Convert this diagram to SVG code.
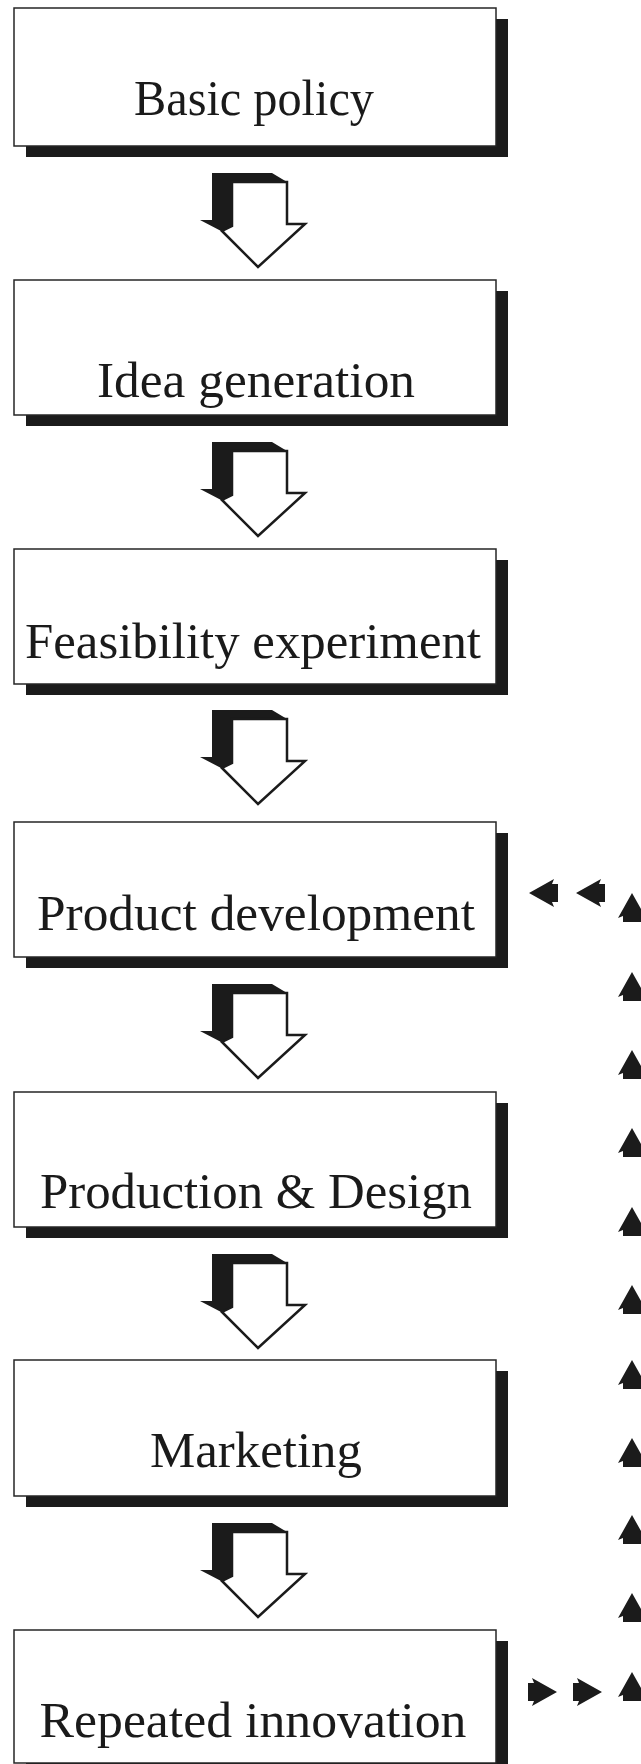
<svg xmlns="http://www.w3.org/2000/svg" xmlns:xlink="http://www.w3.org/1999/xlink" width="641" height="1764" viewBox="0 0 641 1764">
  <style>
    .shadow { fill: #1b1b1b; }
    .box { fill: #ffffff; stroke: #262626; stroke-width: 1.5; }
    .label { font-family: "Liberation Serif", "Times New Roman", serif; font-size: 50px; fill: #1a1a1a; text-anchor: middle; }
    .extrude { fill: #1b1b1b; }
    .face { fill: #ffffff; stroke: #1b1b1b; stroke-width: 2.5; stroke-linejoin: miter; }
    .tick { fill: #1b1b1b; }
  </style>
  <defs>
    <!-- hollow 3D block arrow, drawn for the first gap (top at y=173) -->
    <g id="blockArrow">
      <polygon class="extrude" points="212,173 272,173 287,182 232,182 232,226 223,232 200,220 212,220"/>
      <polygon class="face" points="232,182 287,182 287,224 305,224 258,267 222,231 232,226"/>
    </g>
    <!-- small solid arrowhead, tip at origin, pointing up -->
    <path id="ah" class="tick" d="M0,0 L14,25 L9,23 L9,29 L-9,29 L-9,23 L-14,25 Z"/>
  </defs>

  <rect width="641" height="1764" fill="#ffffff"/>

  <g id="node-basic-policy">
    <rect class="shadow" x="26" y="19" width="482" height="138"/>
    <rect class="box" x="14" y="8" width="482" height="138"/>
    <text class="label" x="254" y="115" textLength="240" lengthAdjust="spacingAndGlyphs">Basic policy</text>
  </g>

  <g id="node-idea-generation">
    <rect class="shadow" x="26" y="291" width="482" height="135"/>
    <rect class="box" x="14" y="280" width="482" height="135"/>
    <text class="label" x="256" y="397" textLength="318" lengthAdjust="spacingAndGlyphs">Idea generation</text>
  </g>

  <g id="node-feasibility">
    <rect class="shadow" x="26" y="560" width="482" height="135"/>
    <rect class="box" x="14" y="549" width="482" height="135"/>
    <text class="label" x="253" y="658" textLength="456" lengthAdjust="spacingAndGlyphs">Feasibility experiment</text>
  </g>

  <g id="node-product-development">
    <rect class="shadow" x="26" y="833" width="482" height="135"/>
    <rect class="box" x="14" y="822" width="482" height="135"/>
    <text class="label" x="256" y="930" textLength="438" lengthAdjust="spacingAndGlyphs">Product development</text>
  </g>

  <g id="node-production-design">
    <rect class="shadow" x="26" y="1103" width="482" height="135"/>
    <rect class="box" x="14" y="1092" width="482" height="135"/>
    <text class="label" x="256" y="1208" textLength="432" lengthAdjust="spacingAndGlyphs">Production &amp; Design</text>
  </g>

  <g id="node-marketing">
    <rect class="shadow" x="26" y="1371" width="482" height="136"/>
    <rect class="box" x="14" y="1360" width="482" height="136"/>
    <text class="label" x="256" y="1467" textLength="212" lengthAdjust="spacingAndGlyphs">Marketing</text>
  </g>

  <g id="node-repeated-innovation">
    <rect class="shadow" x="26" y="1641" width="482" height="134"/>
    <rect class="box" x="14" y="1630" width="482" height="133"/>
    <text class="label" x="253" y="1737" textLength="427" lengthAdjust="spacingAndGlyphs">Repeated innovation</text>
  </g>

  <g id="connectors">
    <!-- downward flow between stages -->
    <use xlink:href="#blockArrow"/>
    <use xlink:href="#blockArrow" transform="translate(0,269)"/>
    <use xlink:href="#blockArrow" transform="translate(0,537)"/>
    <use xlink:href="#blockArrow" transform="translate(0,811)"/>
    <use xlink:href="#blockArrow" transform="translate(0,1081)"/>
    <use xlink:href="#blockArrow" transform="translate(0,1350)"/>

    <!-- feedback loop: repeated innovation back to product development -->
    <use xlink:href="#ah" transform="translate(557,1692) rotate(90)"/>
    <use xlink:href="#ah" transform="translate(602,1692) rotate(90)"/>

    <use xlink:href="#ah" transform="translate(632,1672)"/>
    <use xlink:href="#ah" transform="translate(632,1593)"/>
    <use xlink:href="#ah" transform="translate(632,1515)"/>
    <use xlink:href="#ah" transform="translate(632,1438)"/>
    <use xlink:href="#ah" transform="translate(632,1360)"/>
    <use xlink:href="#ah" transform="translate(632,1285)"/>
    <use xlink:href="#ah" transform="translate(632,1207)"/>
    <use xlink:href="#ah" transform="translate(632,1128)"/>
    <use xlink:href="#ah" transform="translate(632,1050)"/>
    <use xlink:href="#ah" transform="translate(632,972)"/>
    <use xlink:href="#ah" transform="translate(632,893)"/>

    <use xlink:href="#ah" transform="translate(576,893) rotate(-90)"/>
    <use xlink:href="#ah" transform="translate(529,893) rotate(-90)"/>
  </g>
</svg>
